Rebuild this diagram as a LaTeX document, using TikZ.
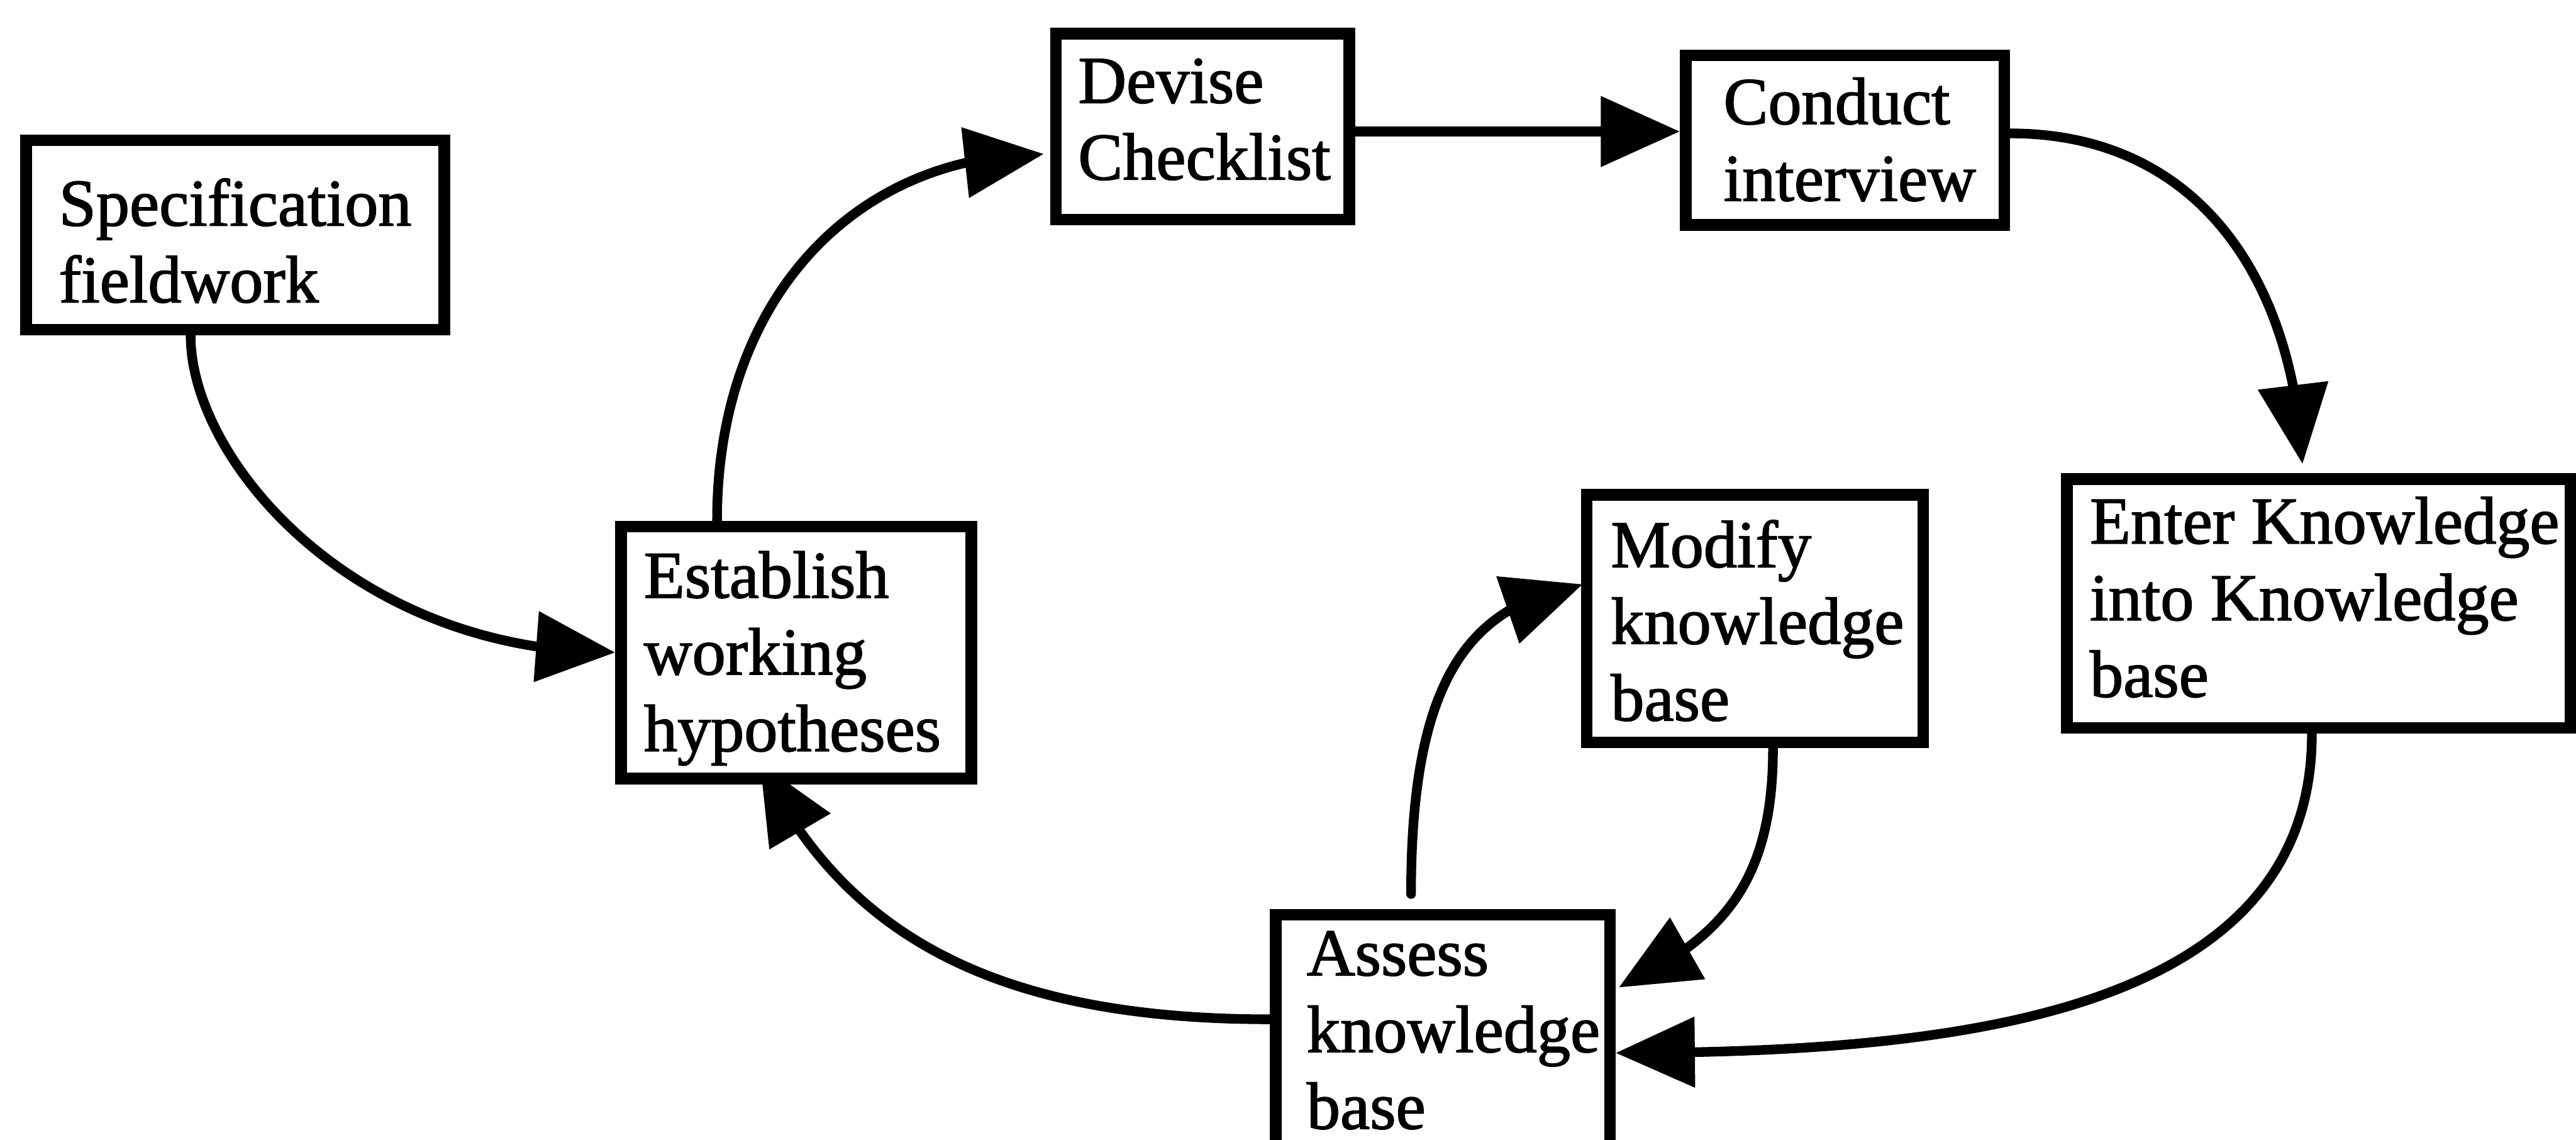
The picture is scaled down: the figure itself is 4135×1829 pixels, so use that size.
\documentclass[tikz,border=0pt]{standalone}
\usepackage{fontspec}
\setmainfont{Liberation Serif}
\newfontfamily\labelfont{Liberation Serif}[FakeBold=1.6]
\usetikzlibrary{arrows.meta,bending,calc}
\pgfdeclarelayer{background}
\pgfsetlayers{background,main}
\newcommand{\boxlines}[1]{\begin{tabular}[t]{@{}l@{}}#1\end{tabular}}
\begin{document}
\begin{tikzpicture}[x=0.01cm,y=-0.01cm,
  stepbox/.style={draw, line width=5.3pt, fill=white, rectangle, inner sep=0pt},
  txt/.style={inner sep=0pt, anchor=base west, font=\labelfont\fontsize{30.5}{35}\selectfont},
  arr/.style={line width=4.4pt, line cap=round, -{Triangle[length=1.27cm,width=1.1cm,flex]}}]
\useasboundingbox (0,0) rectangle (4135,1829);
% boxes
\node[stepbox, minimum width=6.71cm, minimum height=3.04cm] (spec) at (377.5,377) {};
\node[stepbox, minimum width=4.71cm, minimum height=2.98cm] (devise) at (1930.5,203) {};
\node[stepbox, minimum width=5.11cm, minimum height=2.72cm] (conduct) at (2961.5,225) {};
\node[stepbox, minimum width=5.62cm, minimum height=4.04cm] (establish) at (1278,1047) {};
\node[stepbox, minimum width=5.40cm, minimum height=3.97cm] (modify) at (2817,992.5) {};
\node[stepbox, minimum width=8.08cm, minimum height=3.99cm] (enter) at (3722,968.5) {};
\node[stepbox, minimum width=5.36cm, minimum height=4.92cm] (assess) at (2316,1714) {};
% texts
\node[txt] (spec-t) at (94,362) {\boxlines{Specification\\fieldwork}};
\node[txt] (devise-t) at (1730,165) {\boxlines{Devise\\Checklist}};
\node[txt] (conduct-t) at (2766,199) {\boxlines{Conduct\\interview}};
\node[txt] (establish-t) at (1033,959) {\boxlines{Establish\\working\\hypotheses}};
\node[txt] (modify-t) at (2585,910) {\boxlines{Modify\\knowledge\\base}};
\node[txt] (enter-t) at (3354,872) {\boxlines{Enter Knowledge\\into Knowledge\\base}};
\node[txt] (assess-t) at (2097,1565) {\boxlines{Assess\\knowledge\\base}};
% connectors
\begin{pgfonlayer}{background}
\draw[arr] ($(spec.south)+(-71.5,0)$) .. controls +(0,200) and +(-420,0) .. (establish.west);
\draw[arr] ($(establish.north)+(-127,0)$) .. controls +(0,-360) and +(-300,0) .. ($(devise.west)+(-10,44)$);
\draw[arr] ($(devise.east)+(0,8)$) -- ($(conduct.west)+(0,-14)$);
\draw[arr] ($(conduct.east)+(0,-11)$) .. controls +(300,0) and +(-15,-300) .. ($(enter.north)+(-26,-15)$);
\draw[arr] ($(enter.south)+(-11,0)$) .. controls +(0,450) and +(550,0) .. ($(assess.north east)+(0,231)$);
\draw[arr] ($(modify.south)+(29,0)$) .. controls +(0,220) and +(162,-77) .. ($(assess.north east)+(5,126)$);
\draw[arr] ($(assess.north)+(-51,-24)$) .. controls +(0,-350) and +(-180,33) .. ($(modify.west)+(3,-55)$);
\draw[arr] ($(assess.north west)+(0,177)$) .. controls +(-450,0) and +(132,270) .. ($(establish.south)+(-58,-34)$);
\end{pgfonlayer}
\end{tikzpicture}
\end{document}
